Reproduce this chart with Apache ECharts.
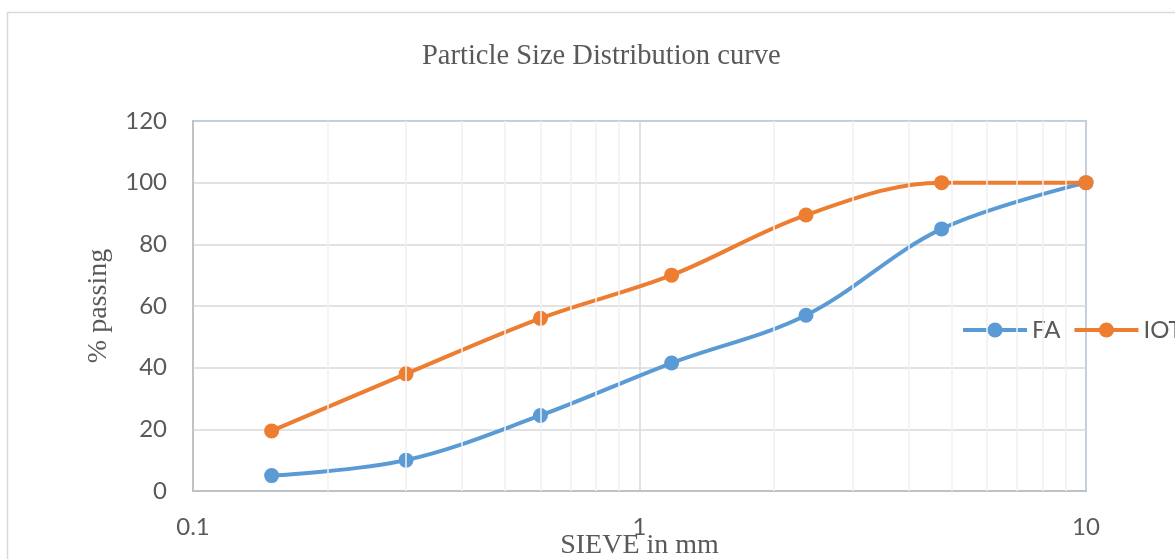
<!DOCTYPE html>
<html>
<head>
<meta charset="utf-8">
<script src="https://cdn.jsdelivr.net/npm/echarts@6/dist/echarts.min.js"></script>
<style>
  html, body { margin: 0; padding: 0; background: #fff; }
  #chart { width: 1175px; height: 559px; }
</style>
</head>
<body>
<div id="chart"></div>
<script>
// sieve sizes (mm)
const sieveSizes = [0.15, 0.3, 0.6, 1.18, 2.36, 4.75, 10]
// % passing
const faPassing = [5, 10, 24.5, 41.5, 57, 85, 100]
const iotPassing = [19.5, 38, 56, 70, 89.5, 100, 100]
// minor vertical gridlines on the log axis
const minorX = [0.2, 0.3, 0.4, 0.5, 0.6, 0.7, 0.8, 0.9, 2, 3, 4, 5, 6, 7, 8, 9]

const chart = echarts.init(document.getElementById('chart'))

const labelFont = 'Lato, "Open Sans", sans-serif'
const serifFont = '"Liberation Serif", "DejaVu Serif", serif'

const option = {
  animation: false,
  graphic: [
    {
      type: 'rect',
      shape: { x: 7.5, y: 12.5, width: 1200, height: 600 },
      style: { fill: 'none', stroke: '#d9d9d9', lineWidth: 1.5 },
      z: -10,
    },
  ],
  title: {
    text: 'Particle Size Distribution curve',
    left: 417,
    top: 37,
    textStyle: {
      fontFamily: serifFont,
      fontSize: 28.5,
      fontWeight: 'normal',
      color: '#595959',
    },
  },
  legend: {
    orient: 'horizontal',
    left: 956,
    top: 313,
    width: 400,
    itemWidth: 64,
    itemHeight: 19,
    itemGap: 12,
    lineStyle: { width: 4 },
    textStyle: { fontFamily: labelFont, fontSize: 24, color: '#595959', padding: [0, 0, 0, 0] },
    data: ['FA', 'IOT'],
  },
  grid: {
    left: 193,
    right: 89,
    top: 121,
    bottom: 68,
    outerBoundsMode: 'none',
    containLabel: false,
    show: true,
    borderColor: '#5b9bd5',
    borderWidth: 1.5,
  },
  xAxis: {
    type: 'log',
    logBase: 10,
    min: 0.1,
    max: 10,
    name: 'SIEVE in mm',
    nameLocation: 'middle',
    nameGap: 55,
    nameMoveOverlap: false,
    nameTextStyle: { fontFamily: serifFont, fontSize: 28, color: '#595959', verticalAlign: 'middle' },
    axisLine: { show: true, lineStyle: { color: '#bfbfbf', width: 1.5 } },
    axisTick: { show: false },
    axisLabel: {
      fontFamily: labelFont,
      fontSize: 24,
      color: '#595959',
      margin: 24,
      formatter: (v) => String(v),
    },
    splitLine: { show: true, lineStyle: { color: '#d9d9d9', width: 1.5 } },
  },
  yAxis: {
    type: 'value',
    min: 0,
    max: 120,
    interval: 20,
    name: '% passing',
    nameLocation: 'middle',
    nameGap: 80,
    nameMoveOverlap: false,
    nameTextStyle: { fontFamily: serifFont, fontSize: 28, color: '#595959' },
    axisLine: { show: true, lineStyle: { color: '#bfbfbf', width: 1.5 } },
    axisTick: { show: false },
    axisLabel: { fontFamily: labelFont, fontSize: 24, color: '#595959', margin: 26 },
    splitLine: { show: true, lineStyle: { color: '#d9d9d9', width: 1.5 } },
  },
  series: [
    {
      name: 'minor',
      type: 'line',
      data: [],
      silent: true,
      z: 1,
      markLine: {
        silent: true,
        symbol: 'none',
        label: { show: false },
        lineStyle: { color: '#f0f0f0', width: 1.5, type: 'solid' },
        data: minorX.map((v) => ({ xAxis: v })),
      },
    },
    {
      name: 'FA',
      type: 'line',
      data: sieveSizes.map((s, i) => [s, faPassing[i]]),
      smooth: 0.35,
      symbol: 'circle',
      symbolSize: 15,
      z: 3,
      itemStyle: { color: '#5b9bd5' },
      lineStyle: { color: '#5b9bd5', width: 4 },
    },
    {
      name: 'IOT',
      type: 'line',
      data: sieveSizes.map((s, i) => [s, iotPassing[i]]),
      smooth: 0.35,
      symbol: 'circle',
      symbolSize: 15,
      z: 3,
      itemStyle: { color: '#ed7d31' },
      lineStyle: { color: '#ed7d31', width: 4 },
    },
  ],
}

chart.setOption(option)
</script>
</body>
</html>
